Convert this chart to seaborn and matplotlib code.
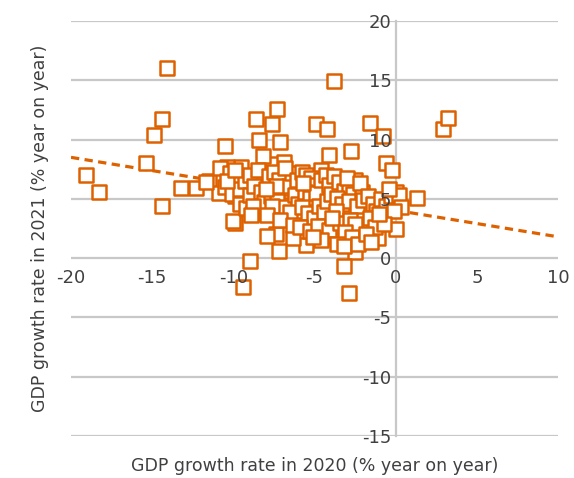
import matplotlib
matplotlib.use("Agg")
import matplotlib.pyplot as plt
import seaborn as sns
import pandas as pd

# GDP growth by region: 2020 (x) against 2021 (y), % year on year
gdp_2020 = [
    -14.1, -3.8, -14.4, -14.9, -15.4, -19.1, -18.3, -14.4, -13.2, -12.3,
    -11.5, -10.9, -10.5, -9.9, -9.0, -9.4, -8.6, -7.6, -7.3, -8.4,
    -7.1, -4.9, -4.2, -1.6, -0.8, -2.75, -4.1, -0.6, -0.2, 2.9,
    3.2, 1.3, 0.0, 0.0, 0.0, -1.1, -2.5, -3.2, -2.9, -5.5,
    -6.3, -7.2, -7.4, -7.9, -4.4, -3.4, -2.2, -1.9, -3.0, -2.1,
    -0.8, -6.6, -7.6, -4.6, -3.8, -2.6, -2.5, -5.6, -6.7, -7.6,
    -7.6, -6.9, -9.5, -10.4, -8.6, -8.2, -9.9, -9.1, -8.5, -11.7,
    -10.0, -8.3, -7.7, -6.8, -10.8, -10.2, -9.8, -10.5, -10.1, -9.6,
    -9.3, -9.0, -9.6, -9.2, -8.8, -9.0, -8.7, -8.5, -8.3, -8.1,
    -8.8, -10.4, -9.9, -8.9, -7.8, -7.5, -7.2, -7.0, -7.7, -7.3,
    -6.9, -7.6, -6.6, -6.4, -6.2, -6.0, -6.5, -7.9, -7.1, -6.3,
    -6.8, -7.4, -6.1, -8.0, -5.8, -5.5, -5.2, -5.0, -5.6, -5.3,
    -4.9, -4.6, -4.3, -4.1, -5.8, -5.4, -5.0, -4.7, -4.4, -4.2,
    -5.9, -5.3, -4.8, -4.1, -4.6, -5.1, -4.0, -5.7, -3.8, -3.5,
    -3.2, -2.9, -2.6, -3.6, -3.3, -2.9, -2.4, -3.7, -3.4, -2.8,
    -2.5, -3.9, -3.1, -2.7, -3.6, -3.2, -2.3, -2.1, -2.0, -3.0,
    -2.2, -1.7, -1.4, -1.2, -0.9, -0.6, -0.3, 0.2, 0.3, -0.1,
    -1.6, -1.3, -0.7, -1.8, -1.5, -0.4, -1.0,
]
gdp_2021 = [
    16.0, 14.9, 11.7, 10.4, 8.0, 7.0, 5.6, 4.4, 5.9, 5.9,
    6.5, 5.5, 9.5, 3.0, -0.2, -2.4, 11.7, 11.3, 12.6, 10.0,
    9.8, 11.3, 10.9, 11.4, 10.3, 9.0, 8.7, 8.0, 7.4, 10.9,
    11.8, 5.1, 5.6, 4.8, 2.5, 1.7, 0.5, -0.7, -2.9, 1.1,
    1.7, 0.6, 2.0, 1.9, 1.9, 1.5, 2.4, 1.5, 3.5, 3.9,
    3.1, 3.4, 3.9, 7.4, 5.9, 5.9, 6.6, 6.4, 6.3, 6.3,
    7.9, 8.1, 7.7, 7.7, 6.9, 8.6, 5.2, 4.9, 4.1, 6.4,
    3.1, 4.5, 4.0, 4.5, 7.6, 7.2, 6.6, 6.0, 5.4, 5.8,
    6.5, 7.0, 4.6, 4.2, 3.8, 5.3, 6.1, 7.4, 5.6, 4.7,
    4.4, 6.5, 7.4, 3.6, 6.9, 7.3, 6.6, 5.9, 5.2, 4.8,
    4.3, 4.4, 6.1, 7.2, 5.3, 4.6, 3.9, 3.6, 3.2, 2.8,
    7.6, 6.1, 6.6, 5.8, 7.3, 7.0, 6.8, 6.2, 5.6, 5.1,
    5.5, 6.6, 7.0, 6.2, 4.3, 3.8, 3.4, 4.4, 3.9, 4.8,
    2.6, 2.3, 2.7, 2.4, 1.5, 1.8, 5.4, 6.3, 6.9, 6.4,
    5.7, 6.1, 5.4, 5.1, 4.6, 4.8, 4.4, 4.0, 3.0, 3.2,
    2.9, 3.4, 2.2, 1.8, 1.2, 1.0, 1.2, 5.6, 4.9, 6.8,
    6.3, 5.2, 4.6, 4.0, 5.0, 4.4, 5.2, 5.3, 4.3, 4.0,
    3.4, 2.6, 2.9, 2.0, 1.4, 5.8, 3.7,
]

# Linear trend line end points
trend_x = [-20, 10]
trend_y = [8.5, 1.8]

x_ticks = [-20, -15, -10, -5, 0, 5, 10]
y_ticks = [-15, -10, -5, 0, 5, 10, 15, 20]

ORANGE = "#DE6100"
GRID = "#C8C8C8"
TEXT = "#404040"

sns.set_theme(style="white")
plt.rcParams["font.family"] = ["DejaVu Sans"]
plt.rcParams["axes.unicode_minus"] = False

df = pd.DataFrame({"x": gdp_2020, "y": gdp_2021})

fig = plt.figure(figsize=(5.74, 4.78), dpi=100)
ax = fig.add_axes([71 / 574, 1 - 436 / 478, 487 / 574, 415 / 478])

# horizontal gridlines sit beneath everything
for yv in y_ticks:
    ax.axhline(yv, color=GRID, lw=1.6, zorder=0.5)

ax.plot(trend_x, trend_y, color=ORANGE, lw=2.3, dashes=(2.6, 1.7), zorder=1.9)
sns.scatterplot(data=df, x="x", y="y", ax=ax, marker="s", s=95,
                facecolor="white", edgecolor=ORANGE, linewidth=1.8,
                zorder=2, legend=False)

ax.set_xlim(-20, 10)
ax.set_ylim(-15, 20)
ax.set_xticks(x_ticks)
ax.set_yticks(y_ticks)
ax.grid(False)
ax.set_axisbelow(False)  # tick labels print over the markers

for side in ["top", "right", "bottom"]:
    ax.spines[side].set_visible(False)
ax.spines["left"].set_position(("data", 0))
ax.spines["left"].set_color(GRID)
ax.spines["left"].set_linewidth(1.6)
ax.spines["left"].set_zorder(0.6)
ax.spines["bottom"].set_position(("data", 0))

ax.tick_params(axis="both", length=0, labelsize=13, colors=TEXT)
ax.tick_params(axis="y", pad=3)
ax.tick_params(axis="x", pad=8)

ax.set_xlabel("GDP growth rate in 2020 (% year on year)", fontsize=12.5, color=TEXT)
ax.set_ylabel("GDP growth rate in 2021 (% year on year)", fontsize=12.5, color=TEXT)
ax.xaxis.set_label_coords(0.5, -0.05)
ax.yaxis.set_label_coords(-0.045, 0.5)

fig.savefig("out.png", dpi=100)
